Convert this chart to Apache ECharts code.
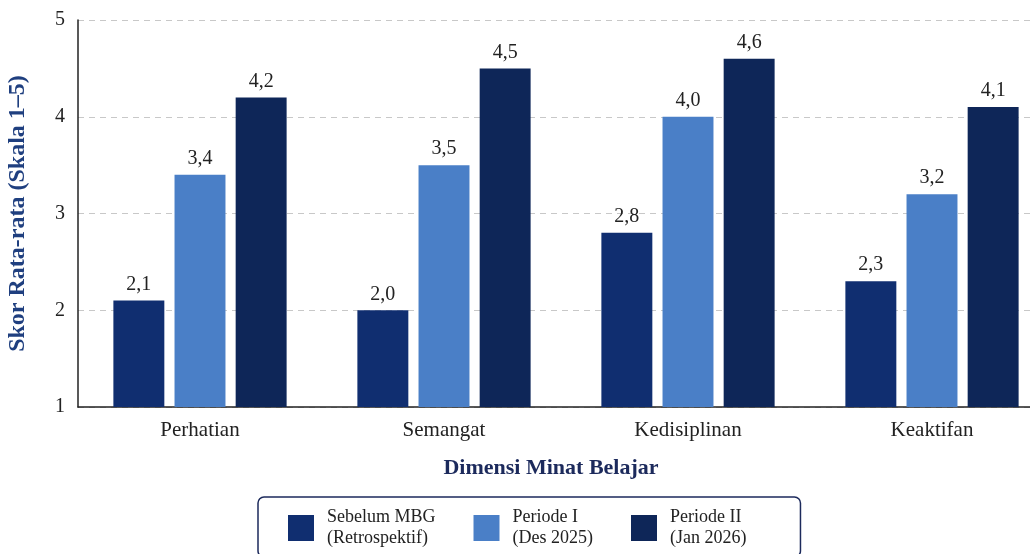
<!DOCTYPE html>
<html>
<head>
<meta charset="utf-8">
<script src="https://cdn.jsdelivr.net/npm/echarts@6/dist/echarts.min.js"></script>
<style>
html, body { margin: 0; padding: 0; background: #fff; }
#chart { width: 1030px; height: 554px; }
</style>
</head>
<body>
<div id="chart"></div>
<script>
// data
var kategori = ['Perhatian', 'Semangat', 'Kedisiplinan', 'Keaktifan'];
var sebelum = [2.1, 2.0, 2.8, 2.3];
var periode1 = [3.4, 3.5, 4.0, 3.2];
var periode2 = [4.2, 4.5, 4.6, 4.1];
var yTicks = [1, 2, 3, 4, 5];

var font = '"Liberation Serif", "DejaVu Serif", serif';
var namaLegend = {
	'Sebelum MBG': 'Sebelum MBG\n(Retrospektif)',
	'Periode I': 'Periode I\n(Des 2025)',
	'Periode II': 'Periode II\n(Jan 2026)'
};

function labelKoma(p) {
	return p.value.toFixed(1).replace('.', ',');
}

function seri(nama, data, warna) {
	return {
		name: nama,
		type: 'bar',
		data: data,
		barGap: '20%',
		barCategoryGap: '29%',
		itemStyle: { color: warna },
		label: {
			show: true,
			position: 'top',
			distance: 6,
			formatter: labelKoma,
			fontFamily: font,
			fontSize: 20,
			color: '#222'
		}
	};
}

var chart = echarts.init(document.getElementById('chart'));
var option = {
	animation: false,
	textStyle: { fontFamily: font },
	title: {
		text: 'Dimensi Minat Belajar',
		left: 546,
		top: 452,
		textAlign: 'center',
		textStyle: { fontFamily: font, fontSize: 22, fontWeight: 'bold', color: '#1c2a5c' }
	},
	grid: { left: 78, top: 20, width: 976, height: 387, outerBoundsMode: 'none' },
	legend: {
		left: 258,
		top: 497,
		itemWidth: 26,
		itemHeight: 26,
		itemGap: 38,
		padding: [10, 54, 8, 30],
		borderColor: '#1c2a5c',
		borderWidth: 1.5,
		borderRadius: 6,
		icon: 'rect',
		formatter: function (n) { return namaLegend[n]; },
		textStyle: { fontFamily: font, fontSize: 18, color: '#222', lineHeight: 21, padding: [0, 0, 0, 8] },
		data: ['Sebelum MBG', 'Periode I', 'Periode II']
	},
	xAxis: {
		type: 'category',
		data: kategori,
		axisLine: { lineStyle: { color: '#222', width: 1.5 } },
		axisTick: { show: false },
		axisLabel: { fontFamily: font, fontSize: 21, color: '#222', margin: 13 }
	},
	yAxis: {
		type: 'value',
		min: yTicks[0],
		max: yTicks[yTicks.length - 1],
		interval: 1,
		name: 'Skor Rata-rata (Skala 1–5)',
		nameLocation: 'middle',
		nameGap: 48,
		nameTextStyle: { fontFamily: font, fontSize: 24, fontWeight: 'bold', color: '#1f3f7f' },
		axisLine: { show: true, lineStyle: { color: '#222', width: 1.5 } },
		axisTick: { show: false },
		axisLabel: { fontFamily: font, fontSize: 20, color: '#222', margin: 13 },
		splitLine: { lineStyle: { color: '#c8c8c8', type: [6, 5] } }
	},
	series: [
		seri('Sebelum MBG', sebelum, '#102e70'),
		seri('Periode I', periode1, '#4a7fc7'),
		seri('Periode II', periode2, '#0e2658')
	]
};
chart.setOption(option);
</script>
</body>
</html>
